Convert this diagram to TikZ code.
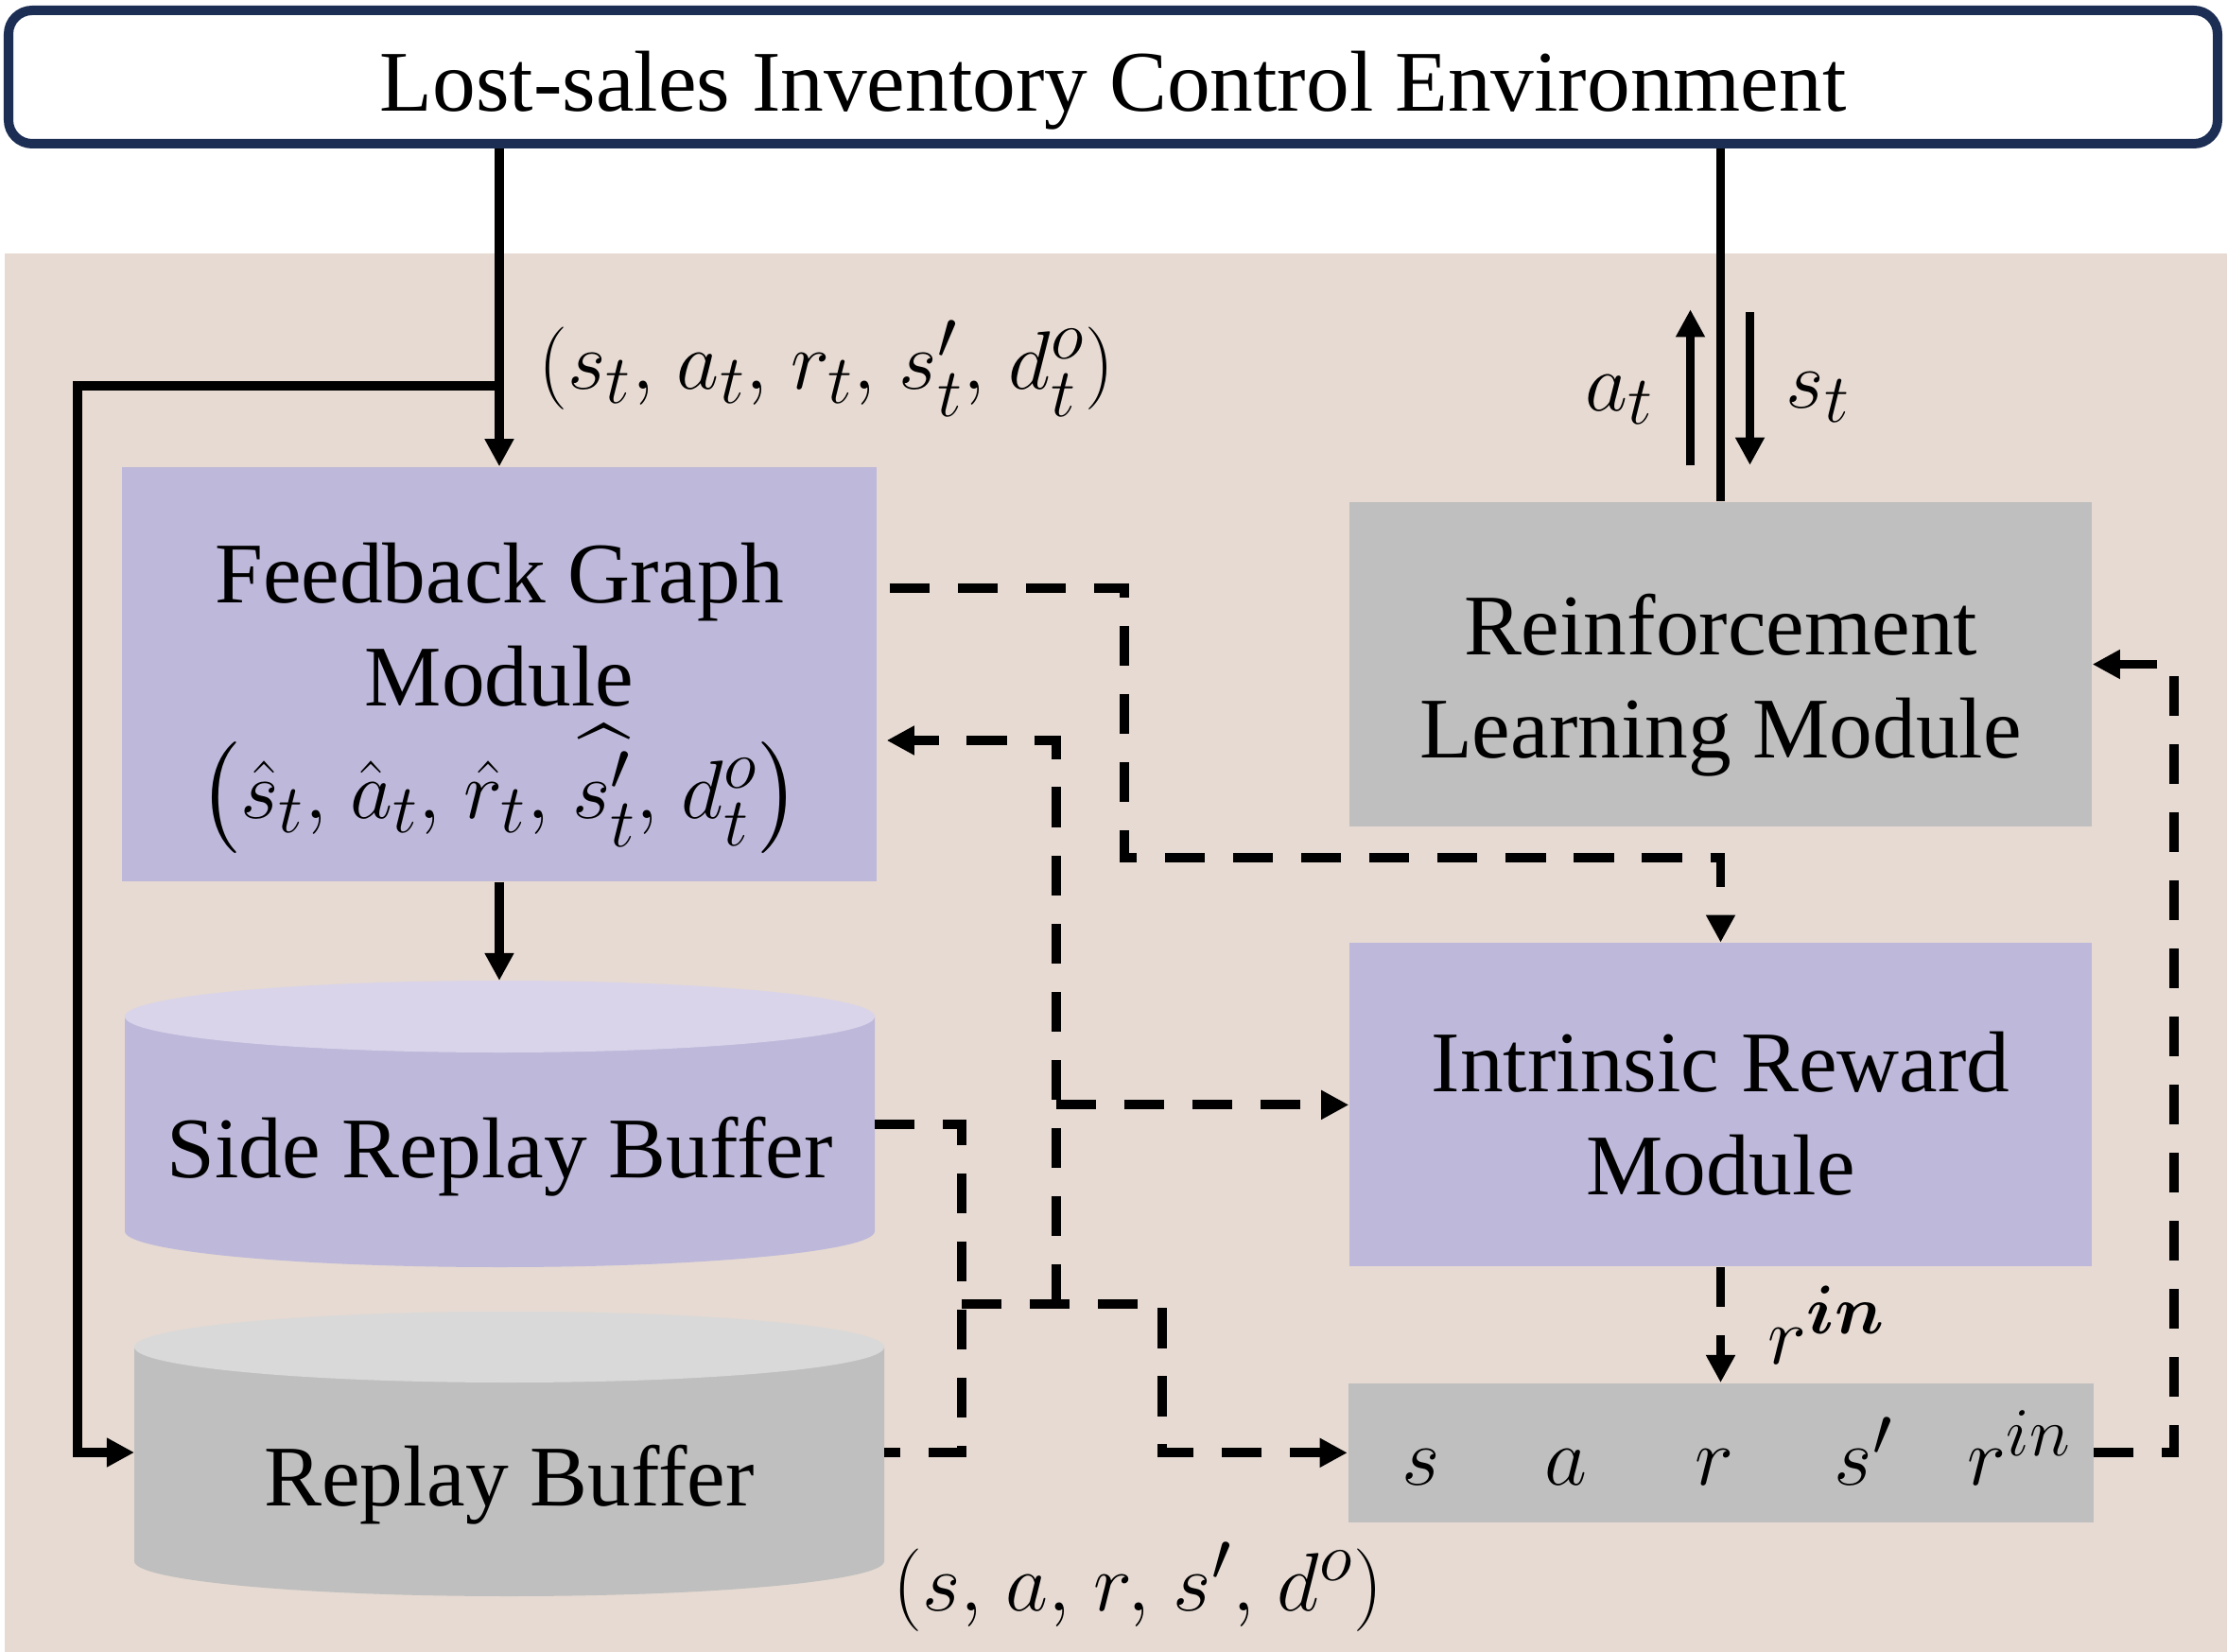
\documentclass[tikz,border=0pt]{standalone}
\usepackage{fontspec}
\setmainfont{Liberation Serif}
\usepackage{xcolor}
\definecolor{envnavy}{HTML}{1C2E54}
\definecolor{sandbg}{HTML}{E6DAD2}
\definecolor{lavender}{HTML}{BEB8DA}
\definecolor{lavtop}{HTML}{D9D4EA}
\definecolor{midgray}{HTML}{BFBFBF}
\definecolor{graytop}{HTML}{D9D9D9}
\usepackage{amsmath}
\usepackage{amssymb}
\usepackage{bm}
\usepackage{tikz}
\newcommand{\lift}[1][1.15]{\rule{0pt}{#1em}}
\newcommand{\sep}{,\mkern2mu}
\usetikzlibrary{positioning,arrows.meta}

\begin{document}
\begin{tikzpicture}[
  node distance=0cm,
  box/.style={fill=lavender, inner sep=0pt, align=center,
              font=\fontsize{26}{31}\selectfont},
  graybox/.style={box, fill=midgray},
  envbox/.style={draw=envnavy, line width=0.1cm, fill=white, rounded corners=0.25cm,
                 minimum width=23.36cm, minimum height=1.41cm,
                 font=\fontsize{26}{31}\selectfont},
  lab/.style={font=\fontsize{26}{31}\selectfont, inner sep=1pt},
  mathlab/.style={lab, font=\fontsize{28}{33}\selectfont},
  link/.style={line width=2.8pt},
  arr/.style={link, -{Triangle[length=8.3pt,width=8.3pt]}},
  dashlink/.style={link, dash pattern=on 12pt off 8.5pt},
  dasharr/.style={arr, dash pattern=on 12pt off 8.5pt}
]
  \path[fill=white, use as bounding box] (0,0) rectangle (23.55,-17.47);
  \fill[sandbg] (0.05,-2.68) rectangle (23.55,-17.47);

  \node[envbox] (env) at (11.77,-0.815) {\lift[1.0]Lost-sales Inventory Control Environment};

  % modules
  \node[box, minimum width=7.98cm, minimum height=4.38cm] (fg) at (5.28,-7.13)
    {\lift[1.25]Feedback Graph\\Module\\[0.1cm]
     {\fontsize{28}{31}\selectfont
      $\big(\hat{s}_t\sep\hat{a}_t\sep\hat{r}_t\sep\widehat{s'_t}\sep d^o_t\big)$}};
  \node[graybox, minimum width=7.85cm, minimum height=3.43cm] (rl) at (18.195,-7.025)
    {\lift[1.2]Reinforcement\\Learning Module};
  \node[box, minimum width=7.85cm, minimum height=3.42cm, below=1.22cm of rl] (ir)
    {\lift[0.9]Intrinsic Reward\\Module};
  \node[graybox, minimum width=7.88cm, minimum height=1.47cm, below=1.22cm of ir] (tr) {};
  \foreach \dx/\sym [count=\i] in {0.78/s, 2.31/a, 3.88/r, 5.46/s', 7.11/r^{in}}
    \node[mathlab, anchor=base] (tr-\i) at ([shift={(\dx,-0.345)}]tr.west) {$\sym$};

  % buffers
  \fill[lavender] (1.32,-10.75) -- (1.32,-13.02)
    arc[start angle=180, end angle=360, x radius=3.965cm, y radius=0.38cm]
    -- (9.25,-10.75) -- cycle;
  \fill[lavtop] (5.285,-10.75) ellipse[x radius=3.965cm, y radius=0.38cm];
  \node[lab] (sbuf) at (5.285,-12.23) {Side Replay Buffer};
  \coordinate (sbuf-top) at (5.285,-10.37);
  \coordinate (sbuf-out) at (9.25,-11.89);

  \fill[midgray] (1.42,-14.245) -- (1.42,-16.51)
    arc[start angle=180, end angle=360, x radius=3.965cm, y radius=0.37cm]
    -- (9.35,-14.245) -- cycle;
  \fill[graytop] (5.385,-14.245) ellipse[x radius=3.965cm, y radius=0.375cm];
  \node[lab] (rbuf) at (5.385,-15.70) {Replay Buffer};
  \coordinate (rbuf-in) at (1.42,-15.36);
  \coordinate (rbuf-out) at (9.35,-15.36);

  % environment links
  \coordinate (fork) at (5.28,-4.08);
  \draw[arr] (fg.north |- env.south) -- (fg.north);
  \draw[arr] (fork) -- ++(-4.46,0) |- (rbuf-in);
  \node[mathlab, anchor=west] (obs) at ([xshift=0.37cm,yshift=0.18cm]fork)
    {$(s_t\sep a_t\sep r_t\sep s'_t\sep d^o_t)$};
  \draw[arr] (fg.south) -- (fg.south |- sbuf-top);

  \draw[link] (rl.north |- env.south) -- (rl.north);
  \draw[arr] ([xshift=-0.32cm,yshift=0.38cm]rl.north) -- ++(0,1.65)
    node[mathlab, midway, left=0.3cm, yshift=-0.13cm] (act) {$a_t$};
  \draw[arr] ([xshift=0.31cm,yshift=2.0cm]rl.north) -- ++(0,-1.615)
    node[mathlab, midway, right=0.3cm, yshift=-0.09cm] (obs2) {$s_t$};

  % dashed data flow
  \draw[dasharr] ([shift={(0.13,0.91)}]fg.east) -| (11.89,-9.07) -| (ir.north);
  \draw[dasharr] (ir.south) -- (tr.north)
    node[mathlab, midway, right=0.42cm] (rin) {$r^{\boldsymbol{in}}$};
  \draw[dasharr] (tr.east) -- ++(0.85,0) |- (rl.east);

  \coordinate (merge) at (10.17,-13.79);
  \coordinate (split) at (11.17,-13.79);
  \draw[dashlink] (sbuf-out) -| (10.17,-15.36) -- (rbuf-out);
  \draw[dasharr] (merge) -| ([xshift=-1.96cm]tr.west) -- (tr.west);
  \draw[dasharr] (split) |- ([shift={(0.1,-0.7)}]fg.east);
  \draw[dasharr] (split |- ir.west) -- (ir.west);
  \node[mathlab, anchor=west] (batch) at (9.40,-16.78) {$(s\sep a\sep r\sep s'\sep d^o)$};
\end{tikzpicture}
\end{document}
